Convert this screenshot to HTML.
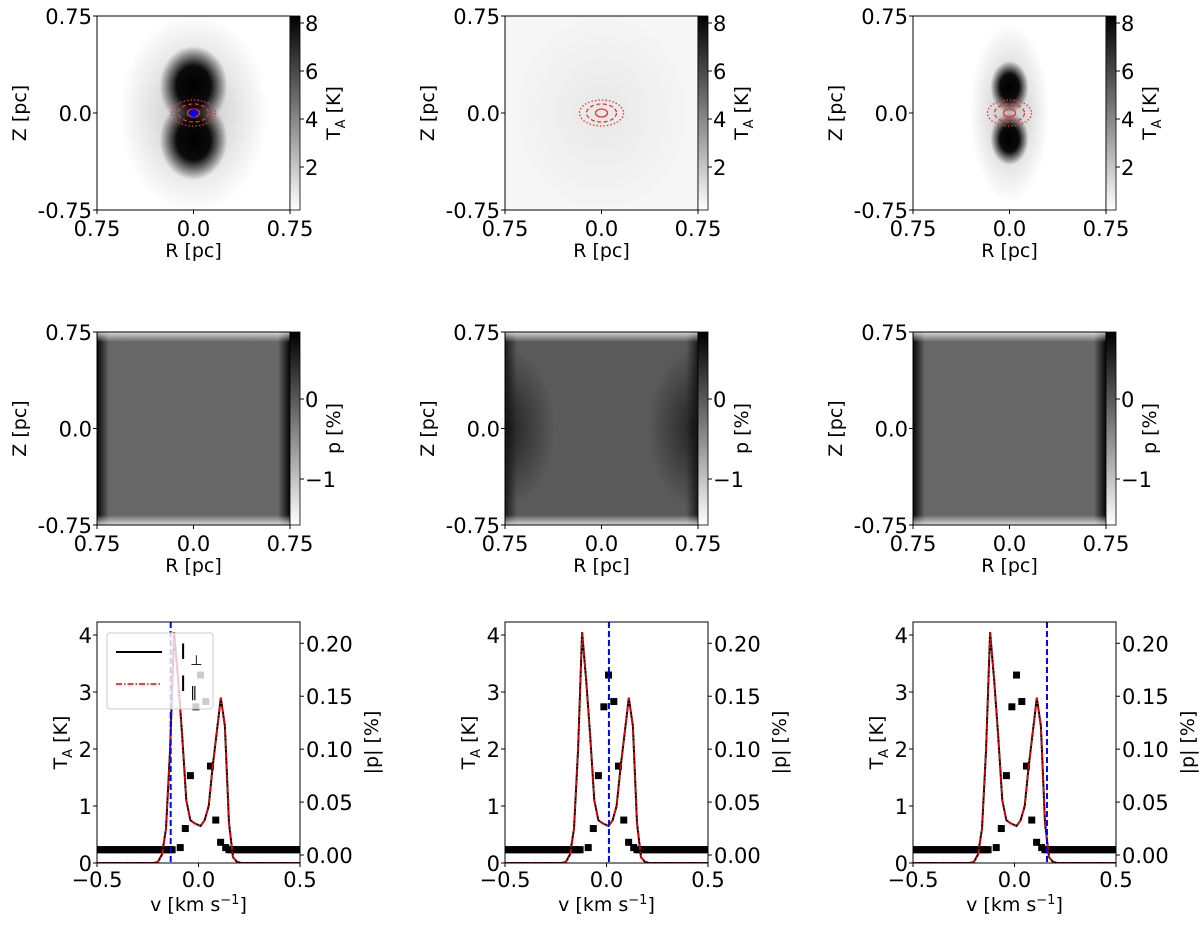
<!DOCTYPE html>
<html><head><meta charset="utf-8">
<style>
html,body{margin:0;padding:0;background:#fff;}
svg text{font-family:"DejaVu Sans","Liberation Sans",sans-serif;fill:#000;}
</style></head>
<body>
<svg id="fig" width="1200" height="922" viewBox="0 0 1200 922" xmlns="http://www.w3.org/2000/svg">
<defs>
  <radialGradient id="blob" cx="50%" cy="50%" r="50%">
    <stop offset="0" stop-color="#000" stop-opacity="1"/>
    <stop offset="0.5" stop-color="#000" stop-opacity="0.95"/>
    <stop offset="1" stop-color="#000" stop-opacity="0"/>
  </radialGradient>
  <radialGradient id="halo" cx="50%" cy="50%" r="50%">
    <stop offset="0" stop-color="#000" stop-opacity="0.25"/>
    <stop offset="1" stop-color="#000" stop-opacity="0"/>
  </radialGradient>
  <radialGradient id="halo2" cx="50%" cy="50%" r="50%">
    <stop offset="0" stop-color="#000" stop-opacity="0.06"/>
    <stop offset="1" stop-color="#000" stop-opacity="0"/>
  </radialGradient>
  <radialGradient id="sidedark" cx="50%" cy="50%" r="50%">
    <stop offset="0" stop-color="#111" stop-opacity="0.8"/>
    <stop offset="1" stop-color="#111" stop-opacity="0"/>
  </radialGradient>
  <linearGradient id="cbT" x1="0" y1="0" x2="0" y2="1">
    <stop offset="0" stop-color="#000"/><stop offset="1" stop-color="#fff"/>
  </linearGradient>
  <linearGradient id="edgeL" x1="0" y1="0" x2="1" y2="0">
    <stop offset="0" stop-color="#000" stop-opacity="1"/><stop offset="1" stop-color="#000" stop-opacity="0"/>
  </linearGradient>
  <linearGradient id="edgeR" x1="1" y1="0" x2="0" y2="0">
    <stop offset="0" stop-color="#000" stop-opacity="1"/><stop offset="1" stop-color="#000" stop-opacity="0"/>
  </linearGradient>
  <linearGradient id="edgeT" x1="0" y1="0" x2="0" y2="1">
    <stop offset="0" stop-color="#fff" stop-opacity="0.95"/><stop offset="1" stop-color="#fff" stop-opacity="0"/>
  </linearGradient>
  <linearGradient id="edgeB" x1="0" y1="1" x2="0" y2="0">
    <stop offset="0" stop-color="#fff" stop-opacity="0.95"/><stop offset="1" stop-color="#fff" stop-opacity="0"/>
  </linearGradient>
</defs>
</svg>
<script>
// ---- data ----
var offsets = [0, 408, 816];
var lineV = [-0.5,-0.3,-0.22,-0.2,-0.18,-0.16,-0.14,-0.12,-0.10,-0.08,-0.06,-0.04,-0.02,0.01,0.03,0.05,0.07,0.09,0.11,0.13,0.15,0.17,0.19,0.21,0.3,0.5];
var lineT = [0,0,0,0.02,0.15,0.6,2.0,4.05,3.2,2.2,1.1,0.75,0.7,0.65,0.75,1.0,1.7,2.3,2.9,2.4,0.7,0.1,0.02,0,0,0];
var peakV = [-0.13,-0.09,-0.065,-0.04,-0.013,0.01,0.036,0.059,0.085,0.109,0.134];
var peakP = [0.005,0.007,0.025,0.075,0.14,0.17,0.145,0.084,0.033,0.012,0.007];
var flatP = 0.005;
var cutV = [-0.137, 0.012, 0.16];
var xTicks = [-0.5, 0.0, 0.5];
var xTickLabels = ["\u22120.5","0.0","0.5"];
var yTicksL = [0,1,2,3,4];
var yTicksR = [0.00,0.05,0.10,0.15,0.20];
var yTicksRLabels = ["0.00","0.05","0.10","0.15","0.20"];
var cbTicksTop = [2,4,6,8];
var cbTicksMid = [0,-1];
var cbMidLabels = ["0","\u22121"];

var svg = document.getElementById('fig');
var NS = 'http://www.w3.org/2000/svg';
var TF = 21, LF = 19;
function mk(tag, attrs, parent, text){
  var e = document.createElementNS(NS, tag);
  for (var k in attrs) e.setAttribute(k, attrs[k]);
  if (text !== undefined) e.textContent = text;
  (parent || svg).appendChild(e);
  return e;
}
function grp(name){
  var g = mk('g', {});
  
  
  return g;
}

function mapAxes(g, off, T, B, cbScale, cbTicks, cbLabels, cbTitle){
  var L = 97 + off, R = 290 + off, mid = (L + R) / 2;
  mk('rect', {x:L, y:T, width:R-L, height:B-T, fill:'none', stroke:'#000', 'stroke-width':1}, g);
  var yl = [["0.75",T],["0.0",(T+B)/2],["-0.75",B]];
  yl.forEach(function(a){
    mk('line', {x1:L-4, y1:a[1], x2:L, y2:a[1], stroke:'#000'}, g);
    var t = mk('text', {x:L-5, y:a[1]+8, 'font-size':TF, 'text-anchor':'end'}, g, a[0]);
    
    
  });
  var xl = [["0.75",L],["0.0",mid],["0.75",R]];
  xl.forEach(function(a){
    mk('line', {x1:a[1], y1:B, x2:a[1], y2:B+4, stroke:'#000'}, g);
    var t = mk('text', {x:a[1], y:B+26, 'font-size':TF, 'text-anchor':'middle'}, g, a[0]);
    
    
  });
  var xt = mk('text', {x:mid, y:B+47, 'font-size':LF, 'text-anchor':'middle'}, g, 'R [pc]');
  
  
  var yt = mk('text', {x:0, y:0, 'font-size':LF, 'text-anchor':'middle', transform:'translate('+(off+26)+','+((T+B)/2)+') rotate(-90)'}, g, 'Z [pc]');
  
  
  var cbr = mk('rect', {x:R, y:T, width:10, height:B-T, fill:'url(#cbT)', stroke:'#000', 'stroke-width':0.8}, g);
  
  
  cbTicks.forEach(function(v, i){
    var y = cbScale(v);
    mk('line', {x1:R+10, y1:y, x2:R+14, y2:y, stroke:'#000'}, g);
    var t = mk('text', {x:R+15, y:y+8, 'font-size':TF}, g, cbLabels[i]);
    
    
  });
  var ct = mk('text', {x:0, y:0, 'font-size':LF, 'text-anchor':'middle', transform:'translate('+(R+50)+','+((T+B)/2)+') rotate(-90)'}, g);
  
  
  ct.innerHTML = cbTitle;
}

var topT = 16, topB = 210, midT = 332, midB = 525;
function cbTop(v){ return 23 + (8 - v) * 24; }
function cbMid(v){ return 399 - v * 80; }
var defs = svg.querySelector('defs');

offsets.forEach(function(off, c){
  var L = 97 + off, cx = 193.5 + off, cy = 113;
  var cp1 = mk('clipPath', {id:'ct'+c}, defs);
  mk('rect', {x:L, y:topT, width:193, height:194}, cp1);
  var cp2 = mk('clipPath', {id:'cm'+c}, defs);
  mk('rect', {x:L, y:midT, width:193, height:193}, cp2);

  var g = grp('intensity-map-' + (c+1));
  var gi = mk('g', {'clip-path':'url(#ct'+c+')'}, g);
  mk('rect', {x:L, y:topT, width:193, height:194, fill: c===1 ? '#f6f6f6' : '#fff'}, gi);
  if (c === 0){
    mk('ellipse', {cx:cx, cy:cy, rx:75, ry:100, fill:'url(#halo)'}, gi);
    mk('ellipse', {cx:cx, cy:cy-27, rx:34, ry:40, fill:'url(#blob)'}, gi);
    mk('ellipse', {cx:cx, cy:cy+27, rx:34, ry:40, fill:'url(#blob)'}, gi);
  } else if (c === 1){
    mk('ellipse', {cx:cx, cy:cy, rx:90, ry:100, fill:'url(#halo2)'}, gi);
  } else {
    mk('ellipse', {cx:cx, cy:cy, rx:40, ry:90, fill:'url(#halo)'}, gi);
    mk('ellipse', {cx:cx, cy:cy-26, rx:19, ry:26, fill:'url(#blob)'}, gi);
    mk('ellipse', {cx:cx, cy:cy+26, rx:19, ry:26, fill:'url(#blob)'}, gi);
  }
  var cont = mk('g', {fill:'none', stroke:'#e33', 'stroke-width':1.3}, g);
  
  
  mk('ellipse', {cx:cx, cy:cy, rx:22, ry:13, 'stroke-dasharray':'1.5,2'}, cont);
  mk('ellipse', {cx:cx, cy:cy, rx:15, ry:9, 'stroke-dasharray':'4,2.5'}, cont);
  mk('ellipse', {cx:cx, cy:cy, rx:6, ry:4}, cont);
  if (c === 0){
    var dot = mk('circle', {cx:cx, cy:cy, r:4, fill:'#00f'}, g);
    
    
  }
  mapAxes(g, off, topT, topB, cbTop, cbTicksTop, ['2','4','6','8'], 'T<tspan font-size="13" dy="5">A</tspan><tspan dy="-5"> [K]</tspan>');

  var g2 = grp('polarization-map-' + (c+1));
  var gm = mk('g', {'clip-path':'url(#cm'+c+')'}, g2);
  var base = c === 1 ? '#5a5a5a' : '#676767';
  mk('rect', {x:L, y:midT, width:193, height:193, fill:base}, gm);
  mk('rect', {x:L, y:midT, width:12, height:193, fill:'url(#edgeL)', opacity: c===1?0.7:0.95}, gm);
  mk('rect', {x:L+181, y:midT, width:12, height:193, fill:'url(#edgeR)', opacity: c===1?0.7:0.95}, gm);
  if (c === 1){
    mk('ellipse', {cx:L, cy:428, rx:50, ry:80, fill:'url(#sidedark)'}, gm);
    mk('ellipse', {cx:L+193, cy:428, rx:50, ry:80, fill:'url(#sidedark)'}, gm);
  }
  mk('rect', {x:L, y:midT, width:193, height:10, fill:'url(#edgeT)', opacity:0.8}, gm);
  mk('rect', {x:L, y:midB-10, width:193, height:10, fill:'url(#edgeB)', opacity:0.8}, gm);
  mapAxes(g2, off, midT, midB, cbMid, cbTicksMid, cbMidLabels, 'p [%]');
});

// ---- spectra (row 3) ----
var bT = 622, bB = 863;
function sx(off, v){ return 97 + off + (v + 0.5) * 203; }
function syL(t){ return 863 - t * 57; }
function syR(p){ return 855 - p * 1058.5; }

offsets.forEach(function(off, c){
  var L = 97 + off, R = 300 + off;
  var g = grp('spectrum-panel-' + (c+1));
  var clip = mk('clipPath', {id:'clip'+c}, defs);
  mk('rect', {x:L, y:bT, width:R-L, height:bB-bT}, clip);
  var inner = mk('g', {'clip-path':'url(#clip'+c+')'}, g);
  var pts = mk('g', {fill:'#000'}, inner);
  
  
  for (var v = -0.5; v <= 0.5001; v += 0.0125){
    if (v > -0.135 && v < 0.14) continue;
    var r = mk('rect', {x:sx(off,v)-3.5, y:syR(flatP)-3.5, width:7, height:7}, pts);
    
    
  }
  peakV.forEach(function(v, i){
    var r = mk('rect', {x:sx(off,v)-3.5, y:syR(peakP[i])-3.5, width:7, height:7}, pts);
    
    
  });
  var d = lineV.map(function(v, i){ return (i?'L':'M') + sx(off,v).toFixed(1) + ',' + syL(lineT[i]).toFixed(1); }).join(' ');
  var l1 = mk('path', {d:d, fill:'none', stroke:'#000', 'stroke-width':2}, inner);
  
  
  var l2 = mk('path', {d:d, fill:'none', stroke:'#e00', 'stroke-width':1.6, 'stroke-dasharray':'6,2,1.5,2'}, inner);
  
  
  var cl = mk('line', {x1:sx(off,cutV[c]), y1:bT, x2:sx(off,cutV[c]), y2:bB, stroke:'#00f', 'stroke-width':2, 'stroke-dasharray':'6,3'}, inner);
  
  
  mk('rect', {x:L, y:bT, width:R-L, height:bB-bT, fill:'none', stroke:'#000'}, g);
  xTicks.forEach(function(v, i){
    var x = sx(off, v);
    mk('line', {x1:x, y1:bB, x2:x, y2:bB+4, stroke:'#000'}, g);
    var t = mk('text', {x:x, y:bB+24, 'font-size':TF, 'text-anchor':'middle'}, g, xTickLabels[i]);
    
    
  });
  yTicksL.forEach(function(v){
    var y = syL(v);
    mk('line', {x1:L-4, y1:y, x2:L, y2:y, stroke:'#000'}, g);
    var t = mk('text', {x:L-5, y:y+8, 'font-size':TF, 'text-anchor':'end'}, g, String(v));
    
    
  });
  yTicksR.forEach(function(v, i){
    var y = syR(v);
    mk('line', {x1:R, y1:y, x2:R+4, y2:y, stroke:'#000'}, g);
    var t = mk('text', {x:R+6, y:y+8, 'font-size':TF}, g, yTicksRLabels[i]);
    
    
  });
  var xt = mk('text', {x:(L+R)/2, y:bB+48, 'font-size':LF, 'text-anchor':'middle'}, g);
  
  
  xt.innerHTML = 'v [km s<tspan font-size="13" dy="-7">\u22121</tspan><tspan dy="7">]</tspan>';
  var yt = mk('text', {x:0, y:0, 'font-size':LF, 'text-anchor':'middle', transform:'translate('+(off+67)+','+((bT+bB)/2)+') rotate(-90)'}, g);
  
  
  yt.innerHTML = 'T<tspan font-size="13" dy="5">A</tspan><tspan dy="-5"> [K]</tspan>';
  var yr = mk('text', {x:0, y:0, 'font-size':LF, 'text-anchor':'middle', transform:'translate('+(off+378)+','+((bT+bB)/2)+') rotate(-90)'}, g, '|p| [%]');
  
  
});

// legend (panel 1 only)
var lg = grp('legend');
mk('rect', {x:107, y:633, width:106, height:76, rx:3, fill:'#fff', 'fill-opacity':0.8, stroke:'#ccc'}, lg);
var e1 = mk('line', {x1:116, y1:652, x2:162, y2:652, stroke:'#000', 'stroke-width':2}, lg);


var t1 = mk('text', {x:180, y:659, 'font-size':TF}, lg);


t1.innerHTML = 'I<tspan font-size="14" dy="6" dx="4">\u22a5</tspan>';
var e2 = mk('line', {x1:116, y1:684, x2:162, y2:684, stroke:'#e00', 'stroke-width':1.6, 'stroke-dasharray':'6,2,1.5,2'}, lg);


var t2 = mk('text', {x:180, y:691, 'font-size':TF}, lg);


t2.innerHTML = 'I<tspan font-size="14" dy="6" dx="4">\u2016</tspan>';
</script>
</body></html>
